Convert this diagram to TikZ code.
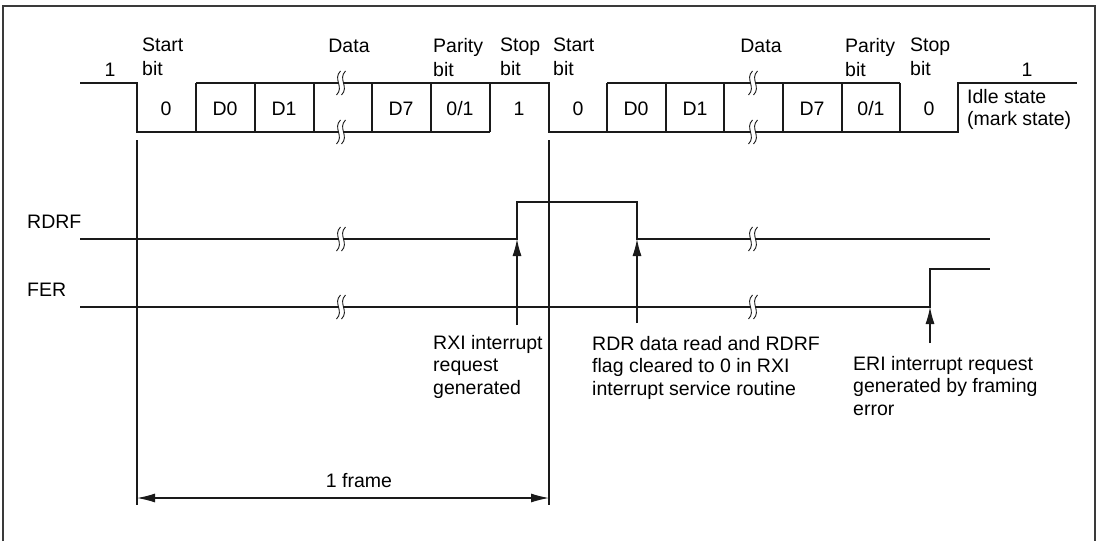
\documentclass[tikz,border=0pt]{standalone}
\usepackage{fontspec}
\setmainfont{Liberation Sans}
\usetikzlibrary{arrows.meta,positioning}
\definecolor{SciInk}{HTML}{1A1A1A}
\definecolor{SciFrame}{HTML}{3A3A3A}
\tikzset{wave/.style={draw=SciInk,line width=1.4pt},
guide/.style={draw=SciInk,line width=1.1pt},
lbl/.style={inner sep=0pt,anchor=north west,align=left,font=\fontsize{19.5}{22.5}\selectfont},
toplbl/.style={lbl,font=\fontsize{19.5}{24}\selectfont},
bitval/.style={inner sep=0pt,anchor=base,font=\fontsize{19.5}{22.5}\selectfont},
flow/.style={-{Latex[length=17pt,width=9pt]},line width=1.1pt,draw=SciInk},
span/.style={{Latex[length=18pt,width=9pt]}-{Latex[length=18pt,width=9pt]},line width=1.1pt,draw=SciInk}}

\begin{document}
\begin{tikzpicture}[x=1pt,y=-1pt]
\useasboundingbox (0,0) rectangle (1098,541);
\draw[line width=1.6pt,draw=SciFrame] (3,541) -- (3,6) -- (1095,6) -- (1095,541);
% serial frame
\draw[wave] (80,83) -- (137,83) -- (137,132) -- (490,132);
\draw[wave] (196,83) -- (549,83) -- (549,132) -- (958,132) -- (958,83) -- (1077,83);
\draw[wave] (607,83) -- (900,83);
\foreach \bx in {196,255,314,372,431,490,607,666,724,783,842,900}
  \draw[wave] (\bx,83) -- (\bx,132);
\foreach \bx/\txt [count=\n] in {166/0,225/D0,284/D1,401/D7,460/0\slash1,519/1,
  578/0,636/D0,695/D1,812/D7,871/0\slash1,929/0}
  \node[bitval] (bit\n) at (\bx,115) {\txt};
\node[bitval] (mark1) at (110,76) {1};
\node[toplbl] (start1) at (142,38) {Start\\bit};
\node[bitval] (data1) at (349,52) {Data};
\node[toplbl] (parity1) at (433,38) {Parity\\bit};
\node[toplbl] (stop1) at (500,38) {Stop\\bit};
\node[toplbl] (start2) at (553,38) {Start\\bit};
\node[bitval] (data2) at (761,52) {Data};
\node[toplbl] (parity2) at (845,38) {Parity\\bit};
\node[toplbl] (stop2) at (910,38) {Stop\\bit};
\node[bitval] (mark2) at (1027,76) {1};
\node[lbl] (idle) at (967,89) {Idle state\\(mark state)};
% flags
\node[bitval,anchor=base west] (rdrf) at (27,228) {RDRF};
\node[bitval,anchor=base west] (fer) at (27,296) {FER};
\draw[wave] (80,239) -- (517,239) -- (517,202) -- (637,202) -- (637,239) -- (990,239);
\draw[wave] (80,307) -- (930,307) -- (930,269) -- (990,269);
% breaks
\foreach \bx/\by in {341/83,341/132,753/83,753/132,341/239,753/239,341/307,753/307}{
  \fill[white] (\bx-0.5,\by-12) .. controls (\bx-8.5,\by-4) and (\bx+3.5,\by+4) .. (\bx-4.5,\by+12)
    -- (\bx+0.5,\by+12) .. controls (\bx+8.5,\by+4) and (\bx-3.5,\by-4) .. (\bx+4.5,\by-12) -- cycle;
  \draw[line width=0.9pt,draw=SciInk] (\bx-0.5,\by-12) .. controls (\bx-8.5,\by-4) and (\bx+3.5,\by+4) .. (\bx-4.5,\by+12);
  \draw[line width=0.9pt,draw=SciInk] (\bx+4.5,\by-12) .. controls (\bx-3.5,\by-4) and (\bx+8.5,\by+4) .. (\bx+0.5,\by+12);
}
% frame limits
\coordinate (fl) at (137,498);
\coordinate (fr) at (549,498);
\draw[guide] (137,140) -- (137,505);
\draw[guide] (549,140) -- (549,505);
\draw[span] (fl) -- (fr);
\node[bitval] (frame) at (359,487) {1 frame};
% interrupt markers
\coordinate (rxi) at (517,239);
\coordinate (rxitail) at (517,325);
\coordinate (rdr) at (637,239);
\coordinate (rdrtail) at (637,323);
\coordinate (eri) at (930,307);
\coordinate (eritail) at (930,343);
\draw[flow] (rxitail) -- (rxi);
\draw[flow] (rdrtail) -- (rdr);
\draw[flow] (eritail) -- (eri);
\node[lbl] (rxitext) at (433,335) {RXI interrupt\\request\\generated};
\node[lbl] (rdrtext) at (592,336) {RDR data read and RDRF\\flag cleared to 0 in RXI\\interrupt service routine};
\node[lbl] (eritext) at (853,356) {ERI interrupt request\\generated by framing\\error};
\end{tikzpicture}
\end{document}
